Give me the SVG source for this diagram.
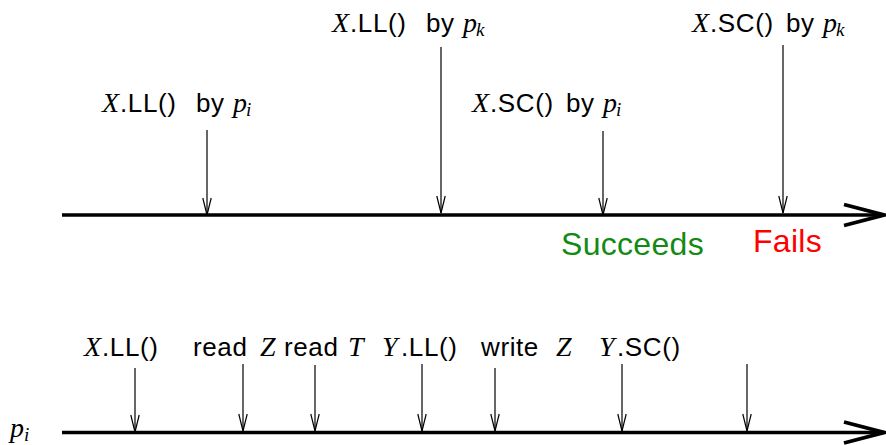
<svg xmlns="http://www.w3.org/2000/svg" width="886" height="445" viewBox="0 0 886 445">
<style>
text{font-family:"Liberation Sans",Arial,sans-serif;font-size:26px;letter-spacing:0.6px;fill:#000}
.m{font-family:"Liberation Serif","Times New Roman",serif;font-style:italic;font-size:28px;letter-spacing:0}
.s{font-family:"Liberation Serif","Times New Roman",serif;font-style:italic;font-size:19px;letter-spacing:0}
.big{font-size:32px;letter-spacing:0.3px}
.ev{stroke:#000;stroke-width:1.2;fill:none;marker-end:url(#v)}
.tl{stroke:#000;stroke-width:3.5;fill:none;marker-end:url(#V)}
</style>
<defs>
<marker id="v" markerUnits="userSpaceOnUse" markerWidth="20" markerHeight="12" viewBox="-18 -6 20 12" refX="0" refY="0" orient="auto">
<path d="M-17,-4.2 L0,0 L-17,4.2" fill="none" stroke="#000" stroke-width="1.2"/>
</marker>
<marker id="V" markerUnits="userSpaceOnUse" markerWidth="46" markerHeight="30" viewBox="-44 -15 46 30" refX="0" refY="0" orient="auto">
<path d="M-40,-10.5 L0,0 L-40,10.5" fill="none" stroke="#000" stroke-width="3.8"/>
</marker>
</defs>
<g id="connectors">
<path class="tl" d="M62,215 H884"/>
<path class="tl" d="M62,432.5 H884"/>
<path class="ev" d="M207,130 V215"/>
<path class="ev" d="M441,47 V213"/>
<path class="ev" d="M603,131 V215"/>
<path class="ev" d="M783,45 V213"/>
<path class="ev" d="M135,368 V432"/>
<path class="ev" d="M243,364 V431"/>
<path class="ev" d="M315,365 V431"/>
<path class="ev" d="M422,364 V431"/>
<path class="ev" d="M495,368 V431"/>
<path class="ev" d="M622,364 V431"/>
<path class="ev" d="M747,364 V431"/>
</g>
<g id="label-xll-pi"><text y="112"><tspan class="m" x="102">X</tspan><tspan x="120">.LL()</tspan><tspan x="196">by</tspan><tspan class="m" x="233">p</tspan><tspan class="s" x="246" dy="4">i</tspan></text></g>
<g id="label-xll-pk"><text y="32"><tspan class="m" x="332">X</tspan><tspan x="350">.LL()</tspan><tspan x="426">by</tspan><tspan class="m" x="463">p</tspan><tspan class="s" x="476" dy="4">k</tspan></text></g>
<g id="label-xsc-pi"><text y="112"><tspan class="m" x="472">X</tspan><tspan x="490">.SC()</tspan><tspan x="566">by</tspan><tspan class="m" x="603">p</tspan><tspan class="s" x="616" dy="4">i</tspan></text></g>
<g id="label-xsc-pk"><text y="32"><tspan class="m" x="692">X</tspan><tspan x="710">.SC()</tspan><tspan x="786">by</tspan><tspan class="m" x="823">p</tspan><tspan class="s" x="836" dy="4">k</tspan></text></g>
<g id="succeeds"><text class="big" x="561" y="255" style="fill:#138a13">Succeeds</text></g>
<g id="fails"><text class="big" x="753" y="252" style="fill:#ff0000">Fails</text></g>
<g id="pi-label"><text y="437"><tspan class="m" x="10">p</tspan><tspan class="s" x="24" dy="4">i</tspan></text></g>
<g id="b-xll"><text y="356"><tspan class="m" x="84">X</tspan><tspan x="102">.LL()</tspan></text></g>
<g id="b-readz"><text y="356"><tspan x="193">read</tspan><tspan class="m" x="260">Z</tspan></text></g>
<g id="b-readt"><text y="356"><tspan x="284">read</tspan><tspan class="m" x="348">T</tspan></text></g>
<g id="b-yll"><text y="356"><tspan class="m" x="382">Y</tspan><tspan x="401">.LL()</tspan></text></g>
<g id="b-writez"><text y="356"><tspan x="481">write</tspan><tspan class="m" x="556">Z</tspan></text></g>
<g id="b-ysc"><text y="356"><tspan class="m" x="599">Y</tspan><tspan x="617">.SC()</tspan></text></g>
</svg>
